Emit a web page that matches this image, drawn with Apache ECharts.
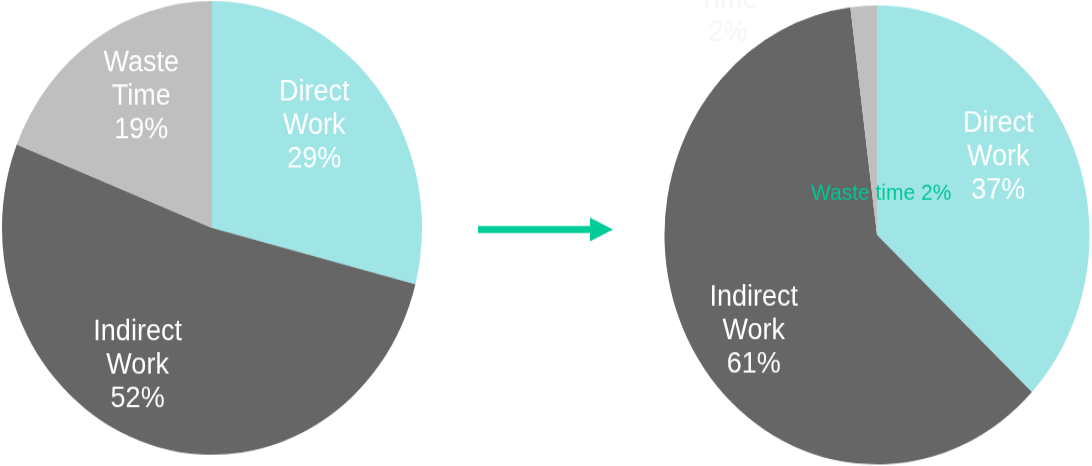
<!DOCTYPE html>
<html>
<head>
<meta charset="utf-8">
<title>Work time breakdown</title>
<script src="https://cdn.jsdelivr.net/npm/echarts@6/dist/echarts.min.js"></script>
<style>
  html, body { margin: 0; padding: 0; background: #ffffff; overflow: hidden; }
  #wrap { width: 1092px; height: 466px; overflow: hidden; }
  /* pies are drawn slightly taller than wide */
  #chart { width: 1092px; height: 432px; transform: scaleY(1.08); transform-origin: 0 0; }
</style>
</head>
<body>
<div id="wrap"><div id="chart"></div></div>
<script>
// Share of working time, before and after
const categories = ['Direct Work', 'Indirect Work', 'Waste Time'];
const beforeValues = [29, 52, 19];
const afterValues = [37, 61, 2];

const colors = ['#9FE5E6', '#666666', '#BFBFBF'];
const labelFont = '"Liberation Sans", Arial, sans-serif';

// label nudges from the default inside position, per slice
const beforeOffsets = [[17, -28], [-41, 25], [-10, -32]];
const afterOffsets = [[21, -29], [-26, 39], [11, 71]];

function stackedLabel(p) {
  return p.name.replace(' ', '\n') + '\n' + p.value + '%';
}

function buildData(values, offsets, isAfter) {
  return categories.map((name, i) => {
    const item = {
      name: name,
      value: values[i],
      itemStyle: { color: colors[i] },
      label: { offset: offsets[i] }
    };
    if (isAfter && i === 2) {
      item.label = {
        offset: offsets[i],
        color: '#00C896',
        fontSize: 21,
        lineHeight: 24,
        formatter: p => p.name.replace('Time', 'time') + ' ' + p.value + '%'
      };
    }
    return item;
  });
}

function pieSeries(center, radius, values, offsets, isAfter) {
  return {
    type: 'pie',
    center: center,
    radius: radius,
    startAngle: 90,
    clockwise: true,
    avoidLabelOverlap: false,
    silent: true,
    label: {
      show: true,
      position: 'inside',
      color: '#ffffff',
      fontFamily: labelFont,
      fontSize: 27,
      lineHeight: 31,
      align: 'center',
      formatter: stackedLabel
    },
    labelLine: { show: false },
    emphasis: { disabled: true },
    itemStyle: { borderWidth: 0 },
    data: buildData(values, offsets, isAfter)
  };
}

const chart = echarts.init(document.getElementById('chart'), null, { renderer: 'canvas' });
chart.setOption({
  animation: false,
  backgroundColor: '#ffffff',
  series: [
    pieSeries([212, 211], 210, beforeValues, beforeOffsets, false),
    pieSeries([877, 217.6], 212.5, afterValues, afterOffsets, true)
  ],
  graphic: [
    // arrow between the two pies
    {
      type: 'rect',
      shape: { x: 478, y: 209.3, width: 113, height: 6.5 },
      style: { fill: '#00CC99' },
      silent: true
    },
    {
      type: 'polygon',
      shape: { points: [[590, 201.4], [613, 212.5], [590, 223.6]] },
      style: { fill: '#00CC99' },
      silent: true
    },
    // faint label left over above the second pie
    {
      type: 'text',
      x: 728,
      y: -16,
      silent: true,
      style: {
        text: 'Time\n2%',
        fill: '#f6f6f6',
        font: '27px "Liberation Sans", Arial, sans-serif',
        lineHeight: 31,
        align: 'center',
        verticalAlign: 'top'
      }
    }
  ]
});
</script>
</body>
</html>
